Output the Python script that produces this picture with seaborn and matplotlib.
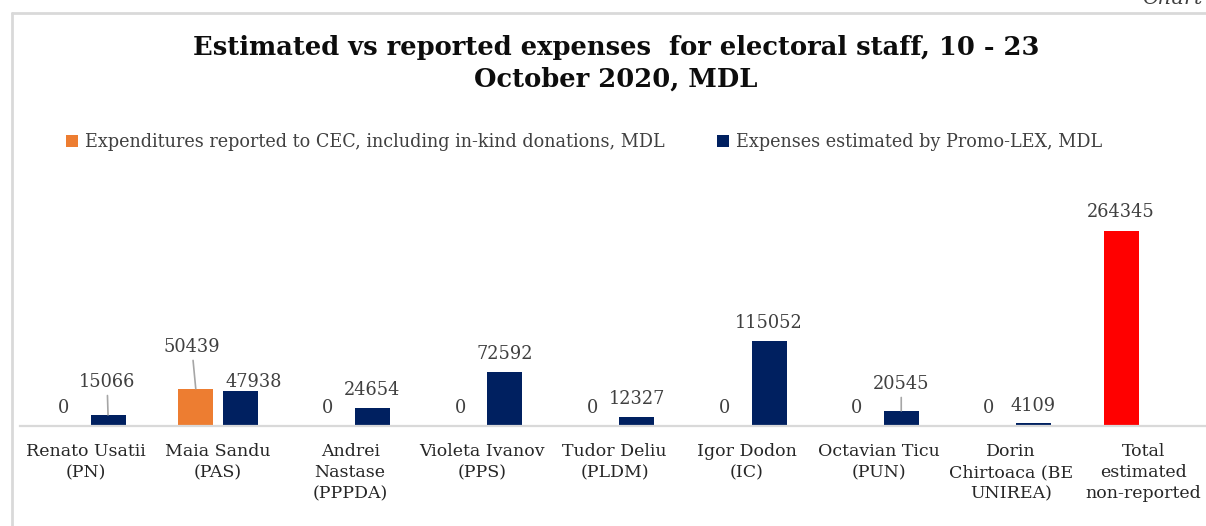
import matplotlib
matplotlib.use("Agg")
import matplotlib.pyplot as plt
import pandas as pd
import seaborn as sns
from matplotlib.lines import Line2D

# Values
candidates = [
    "Renato Usatii\n(PN)",
    "Maia Sandu\n(PAS)",
    "Andrei\nNastase\n(PPPDA)",
    "Violeta Ivanov\n(PPS)",
    "Tudor Deliu\n(PLDM)",
    "Igor Dodon\n(IC)",
    "Octavian Ticu\n(PUN)",
    "Dorin\nChirtoaca (BE\nUNIREA)",
    "Total\nestimated\nnon-reported",
]
reported = [0, 50439, 0, 0, 0, 0, 0, 0, 264345]
estimated = [15066, 47938, 24654, 72592, 12327, 115052, 20545, 4109, None]
series_names = [
    "Expenditures reported to CEC, including in-kind donations, MDL",
    "Expenses estimated by Promo-LEX, MDL",
]
title = "Estimated vs reported expenses  for electoral staff, 10 - 23\nOctober 2020, MDL"

ORANGE = "#ED7D31"
NAVY = "#002060"
RED = "#FF0000"
GRID = "#D9D9D9"
TEXT = "#404040"

# label offsets in pixels (dx, dy, leader line) per series / bar
label_offsets = [
    [(0, 18, False)] * 8 + [(0, 19, False)],
    [(-1, 33, True), (14, 9, False)] + [(0, 18, False)] * 4
    + [(0, 27, True), (0, 17, False)],
]
label_offsets[0] = list(label_offsets[0])
label_offsets[0][1] = (-4, 42, True)

df = pd.DataFrame({
    "candidate": candidates * 2,
    "series": [series_names[0]] * len(candidates) + [series_names[1]] * len(candidates),
    "value": reported + estimated,
}).dropna()

sns.set_style("white")
plt.rcParams["font.family"] = ["DejaVu Serif"]

W, H = 1206, 526
fig = plt.figure(figsize=(W / 100, H / 100), dpi=100)
ax = fig.add_axes([19.7 / W, 100 / H, 1189.8 / W, 226 / H])

sns.barplot(data=df, x="candidate", y="value", hue="series",
            order=candidates, hue_order=series_names,
            palette=[ORANGE, NAVY], saturation=1, errorbar=None,
            width=0.673, gap=0.213, linewidth=0, ax=ax)

ax.set_ylim(0, 306000)
ax.set_xlabel("")
ax.set_ylabel("")
ax.set_yticks([])
for side in ["top", "left", "right"]:
    ax.spines[side].set_visible(False)
ax.spines["bottom"].set_color(GRID)
ax.spines["bottom"].set_linewidth(1.6)
ax.tick_params(axis="x", length=0, pad=12, labelsize=12.5, labelcolor="#262626")
for lbl in ax.get_xticklabels():
    lbl.set_linespacing(1.33)

# the total bar is highlighted in red
ax.containers[0][len(candidates) - 1].set_facecolor(RED)

# data labels
for ci, cont in enumerate(ax.containers):
    for bi, bar in enumerate(cont):
        dx, dy, leader = label_offsets[ci][bi]
        x = bar.get_x() + bar.get_width() / 2
        h = bar.get_height()
        kw = {}
        if leader:
            kw["arrowprops"] = dict(arrowstyle="-", color="#A6A6A6", lw=1.2,
                                    shrinkA=1, shrinkB=0)
        ax.annotate(f"{int(h)}", xy=(x, h), xytext=(dx, dy),
                    textcoords="offset pixels", ha="center", va="center",
                    fontsize=12.8, color=TEXT, **kw)

sns.move_legend(ax, "center", bbox_to_anchor=(584 / W, 1 - 142 / H),
                bbox_transform=fig.transFigure, ncol=2, frameon=False,
                title=None, fontsize=12.7, handlelength=0.65, handleheight=0.65,
                handletextpad=0.4, columnspacing=3.0)
for t in ax.get_legend().get_texts():
    t.set_color(TEXT)

fig.text(616 / W, 1 - 63.5 / H, title, ha="center", va="center",
         fontsize=18.5, fontweight="bold", color="#0D0D0D", linespacing=1.3)

# outer chart frame and cropped caption
fig.add_artist(Line2D([12 / W, 1], [1 - 13 / H] * 2, color=GRID, lw=2))
fig.add_artist(Line2D([12 / W] * 2, [0, 1 - 13 / H], color=GRID, lw=2))
fig.text(1142 / W, 1 - 4 / H, "Chart", style="italic", ha="left",
         va="baseline", fontsize=15, color=TEXT)

fig.savefig("out.png", dpi=100)
